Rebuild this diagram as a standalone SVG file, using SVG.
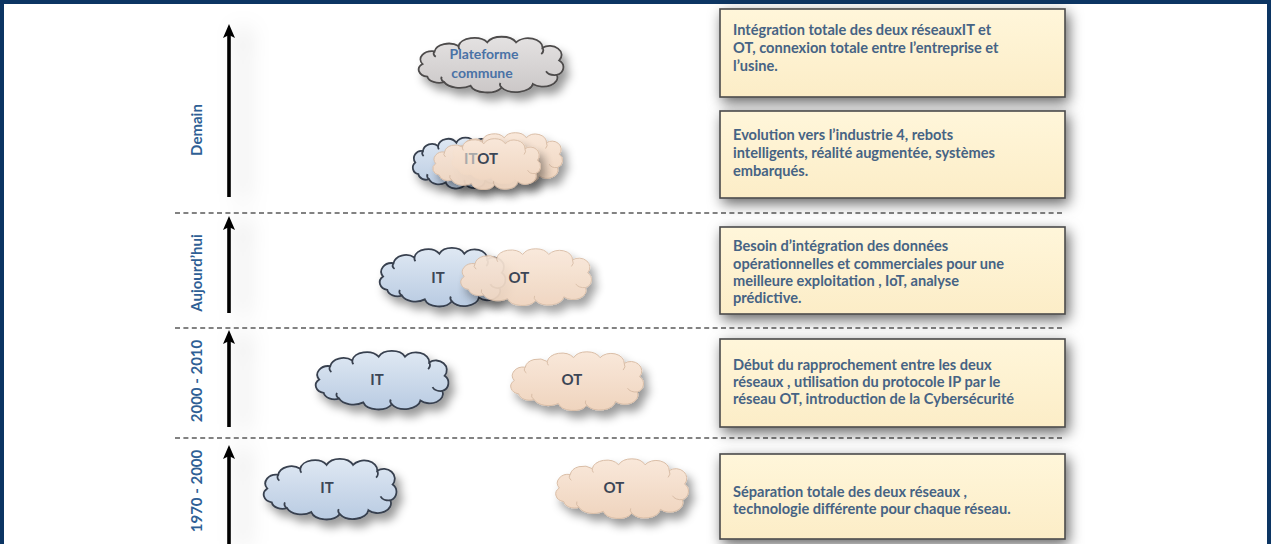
<svg xmlns="http://www.w3.org/2000/svg" width="1271" height="544" viewBox="0 0 1271 544">
  <style>
    .frame { fill: #0c3563; }
    .sep { stroke: #5a5a5a; stroke-width: 1.6; stroke-dasharray: 5 3.4; fill: none; }
    .axis { stroke: #000; stroke-width: 3.6; fill: none; marker-end: url(#head); }
    .period { font-family: Lato, "Liberation Sans", sans-serif; font-weight: 700; font-size: 15px; fill: #2f5f95; text-anchor: middle; }
    .box { fill: url(#boxFill); stroke: #4a4a4a; stroke-width: 1.6; filter: url(#boxShadow); }
    .note { font-family: Lato, "Liberation Sans", sans-serif; font-weight: 700; font-size: 14.6px; fill: #466384; }
    .it { fill: url(#blueFill); stroke: #38414f; stroke-width: 1.8; filter: url(#cloudShadow); }
    .ot { fill: url(#beigeFill); stroke: #d9bda6; stroke-width: 1; filter: url(#cloudShadow); }
    .common { fill: url(#grayFill); stroke: #4d4b4b; stroke-width: 1.8; filter: url(#cloudShadow); }
    .cl { font-family: Lato, "Liberation Sans", sans-serif; font-weight: 700; font-size: 15px; fill: #3c4656; text-anchor: middle; }
    .cl-pale { fill: #a9a9a9; }
    .cl-blue { fill: #4a72a6; font-size: 14px; }
  </style>
  <defs>
    <linearGradient id="boxFill" x1="0" y1="0" x2="0" y2="1">
      <stop offset="0" stop-color="#fff6da"/>
      <stop offset="1" stop-color="#fcedc7"/>
    </linearGradient>
    <linearGradient id="blueFill" x1="0" y1="0" x2="0" y2="1">
      <stop offset="0" stop-color="#dfe8f3"/>
      <stop offset="1" stop-color="#b9cbe2"/>
    </linearGradient>
    <linearGradient id="beigeFill" x1="0" y1="0" x2="0" y2="1">
      <stop offset="0" stop-color="#f9e8da"/>
      <stop offset="1" stop-color="#efd4be"/>
    </linearGradient>
    <linearGradient id="grayFill" x1="0" y1="0" x2="0" y2="1">
      <stop offset="0" stop-color="#e4e2e2"/>
      <stop offset="1" stop-color="#cbc7c7"/>
    </linearGradient>
    <filter id="boxShadow" x="-10%" y="-25%" width="125%" height="160%">
      <feDropShadow dx="3" dy="5" stdDeviation="7" flood-color="#000" flood-opacity="0.6"/>
    </filter>
    <filter id="cloudShadow" x="-15%" y="-25%" width="135%" height="170%">
      <feDropShadow dx="5" dy="7" stdDeviation="5" flood-color="#000" flood-opacity="0.4"/>
    </filter>
    <filter id="axisGlow" filterUnits="userSpaceOnUse" x="150" y="0" width="200" height="544">
      <feDropShadow dx="14" dy="4" stdDeviation="11" flood-color="#000" flood-opacity="0.25"/>
    </filter>
    <marker id="head" viewBox="0 0 14 12" refX="4" refY="6" markerWidth="14" markerHeight="12" markerUnits="userSpaceOnUse" orient="auto">
      <path d="M0,0 L14,6 L0,12 L3,6 Z" fill="#000"/>
    </marker>
    <!-- generic cloud outline, stretched per instance -->
    <symbol id="cloud" viewBox="5 -1 121 63" preserveAspectRatio="none" overflow="visible">
      <path vector-effect="non-scaling-stroke" d="M12,44 a9,8 0 0 1 -4,-14 a10,9 0 0 1 10,-14 a12,10 0 0 1 20,-6 a13,10 0 0 1 24,-4 a13,10 0 0 1 24,0 a12,10 0 0 1 22,6 a10,10 0 0 1 14,14 a8,9 0 0 1 -2,16 a12,10 0 0 1 -20,10 a14,10 0 0 1 -26,4 a14,10 0 0 1 -26,-2 a14,10 0 0 1 -22,-4 a10,8 0 0 1 -14,-6 Z"/>
      <path vector-effect="non-scaling-stroke" fill="none" d="M18,16 a6,5 0 0 0 1,6 M38,10 a6,6 0 0 0 1,4 M108,12 a8,7 0 0 1 -1,7 M120,42 a8,6 0 0 1 -9,-4 M74,56 a6,5 0 0 1 -1,-5 M26,50 a8,6 0 0 1 -2,-6"/>
    </symbol>
  </defs>

  <rect width="1271" height="544" fill="#fff"/>
  <rect class="frame" x="0" y="0" width="1271" height="4"/>
  <rect class="frame" x="0" y="0" width="4" height="544"/>
  <rect class="frame" x="1267" y="0" width="4" height="544"/>

  <!-- time axis arrows and period separators -->
  <g id="connectors">
    <g filter="url(#axisGlow)">
      <line class="axis" x1="229" y1="197" x2="229" y2="34"/>
      <line class="axis" x1="229" y1="313" x2="229" y2="226"/>
      <line class="axis" x1="229" y1="427" x2="229" y2="340"/>
      <line class="axis" x1="229" y1="544" x2="229" y2="455"/>
    </g>
    <line class="sep" x1="175" y1="213" x2="1063" y2="213"/>
    <line class="sep" x1="175" y1="328" x2="1063" y2="328"/>
    <line class="sep" x1="175" y1="438" x2="1063" y2="438"/>
  </g>

  <!-- period labels -->
  <g id="periods">
    <text class="period" transform="translate(202 130) rotate(-90)">Demain</text>
    <text class="period" transform="translate(202 273) rotate(-90)">Aujourd’hui</text>
    <text class="period" transform="translate(202 381) rotate(-90)">2000 - 2010</text>
    <text class="period" transform="translate(202 491) rotate(-90)">1970 - 2000</text>
  </g>

  <!-- clouds -->
  <g id="cloud-plateforme">
    <use href="#cloud" class="common" x="419" y="36" width="145" height="57"/>
    <text class="cl cl-blue" x="484" y="59">Plateforme</text>
    <text class="cl cl-blue" x="482" y="78">commune</text>
  </g>
  <g id="cloud-itot">
    <use href="#cloud" class="it" x="413" y="137" width="92" height="52"/>
    <use href="#cloud" class="ot" x="452" y="132" width="111" height="52"/>
    <use href="#cloud" class="ot" x="433" y="138" width="108" height="52" opacity="0.95"/>
    <text class="cl" x="481" y="164"><tspan class="cl-pale">IT</tspan>OT</text>
  </g>
  <g id="cloud-auj-it">
    <use href="#cloud" class="it" x="380" y="247" width="126" height="60"/>
    <text class="cl" x="438" y="283">IT</text>
  </g>
  <g id="cloud-auj-ot">
    <use href="#cloud" class="ot" x="461" y="248" width="131" height="58" opacity="0.93"/>
    <text class="cl" x="519" y="283">OT</text>
  </g>
  <g id="cloud-2000-it">
    <use href="#cloud" class="it" x="316" y="350" width="133" height="60"/>
    <text class="cl" x="377" y="385">IT</text>
  </g>
  <g id="cloud-2000-ot">
    <use href="#cloud" class="ot" x="511" y="351" width="133" height="60"/>
    <text class="cl" x="572" y="385">OT</text>
  </g>
  <g id="cloud-1970-it">
    <use href="#cloud" class="it" x="264" y="458" width="133" height="62"/>
    <text class="cl" x="327" y="493">IT</text>
  </g>
  <g id="cloud-1970-ot">
    <use href="#cloud" class="ot" x="556" y="458" width="133" height="61"/>
    <text class="cl" x="614" y="493">OT</text>
  </g>

  <!-- description boxes -->
  <g id="box-demain-1">
    <rect class="box" x="720" y="9" width="345" height="88"/>
    <text class="note" x="733" y="35">Intégration totale des deux réseauxIT et</text>
    <text class="note" x="733" y="53">OT, connexion totale entre l’entreprise et</text>
    <text class="note" x="733" y="71">l’usine.</text>
  </g>
  <g id="box-demain-2">
    <rect class="box" x="720" y="111" width="345" height="87"/>
    <text class="note" x="733" y="140">Evolution vers l’industrie 4, rebots</text>
    <text class="note" x="733" y="158">intelligents, réalité augmentée, systèmes</text>
    <text class="note" x="733" y="176">embarqués.</text>
  </g>
  <g id="box-aujourdhui">
    <rect class="box" x="720" y="227" width="345" height="87"/>
    <text class="note" x="733" y="251">Besoin d’intégration des données</text>
    <text class="note" x="733" y="269">opérationnelles et commerciales pour une</text>
    <text class="note" x="733" y="286">meilleure exploitation , IoT, analyse</text>
    <text class="note" x="733" y="303">prédictive.</text>
  </g>
  <g id="box-2000">
    <rect class="box" x="720" y="339" width="345" height="88"/>
    <text class="note" x="733" y="370">Début du rapprochement entre les deux</text>
    <text class="note" x="733" y="387">réseaux , utilisation du protocole IP par le</text>
    <text class="note" x="733" y="404">réseau OT, introduction de la Cybersécurité</text>
  </g>
  <g id="box-1970">
    <rect class="box" x="720" y="454" width="345" height="85"/>
    <text class="note" x="733" y="497">Séparation totale des deux réseaux ,</text>
    <text class="note" x="733" y="514">technologie différente pour chaque réseau.</text>
  </g>
</svg>
